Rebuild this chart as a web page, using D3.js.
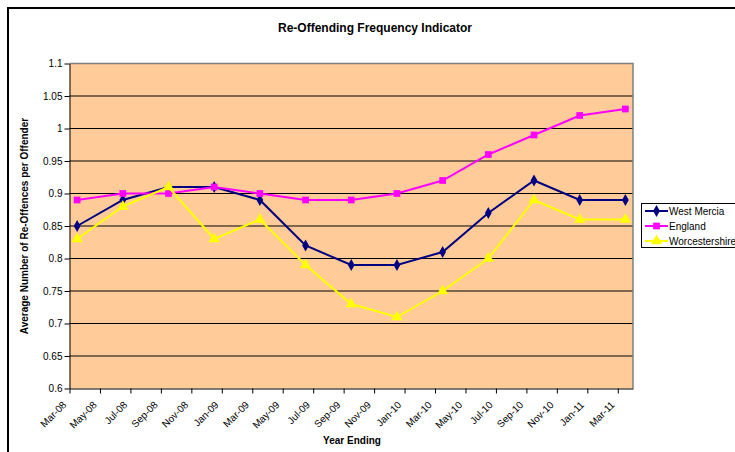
<!DOCTYPE html>
<html>
<head>
<meta charset="utf-8">
<script src="https://cdn.jsdelivr.net/npm/d3@7/dist/d3.min.js"></script>
<style>
  html, body { margin: 0; padding: 0; background: #fff; }
  svg { display: block; font-family: "Liberation Sans", Arial, sans-serif; }
</style>
</head>
<body>
<svg id="chart" width="735" height="452"></svg>
<script>
// Quarterly observation months (index = months since Mar-08)
const pointMonths = [0, 3, 6, 9, 12, 15, 18, 21, 24, 27, 30, 33, 36];
// Bi-monthly tick labels along the date axis
const tickLabels = ["Mar-08","May-08","Jul-08","Sep-08","Nov-08","Jan-09","Mar-09","May-09",
  "Jul-09","Sep-09","Nov-09","Jan-10","Mar-10","May-10","Jul-10","Sep-10","Nov-10","Jan-11","Mar-11"];
const yTicks = [0.6, 0.65, 0.7, 0.75, 0.8, 0.85, 0.9, 0.95, 1, 1.05, 1.1];

const westMercia     = [0.85, 0.89, 0.91, 0.91, 0.89, 0.82, 0.79, 0.79, 0.81, 0.87, 0.92, 0.89, 0.89];
const england        = [0.89, 0.90, 0.90, 0.91, 0.90, 0.89, 0.89, 0.90, 0.92, 0.96, 0.99, 1.02, 1.03];
const worcestershire = [0.83, 0.88, 0.91, 0.83, 0.86, 0.79, 0.73, 0.71, 0.75, 0.80, 0.89, 0.86, 0.86];

const seriesNames = ["West Mercia", "England", "Worcestershire"];
const seriesData = [westMercia, england, worcestershire];
const seriesColors = ["#000080", "#FF00FF", "#FFFF00"];
const seriesSymbols = [d3.symbolDiamond, d3.symbolSquare, d3.symbolTriangle];
const symbolSizes = [40, 45, 55];

const svg = d3.select("#chart");

// Outer chart frame
svg.append("rect").attr("x", 8).attr("y", 8).attr("width", 740).attr("height", 460)
  .attr("fill", "#fff").attr("stroke", "#000").attr("stroke-width", 2);

const plot = { left: 69.5, right: 633, top: 63.5, bottom: 388.5 };

// Date axis: one slot per month, points sit at slot centres
const x = d3.scaleLinear().domain([0, 37]).range([plot.left, plot.right]);
const y = d3.scaleLinear().domain([0.6, 1.1]).range([plot.bottom, plot.top]);

// Plot background
svg.append("rect")
  .attr("x", plot.left).attr("y", plot.top)
  .attr("width", plot.right - plot.left).attr("height", plot.bottom - plot.top)
  .attr("fill", "#FFCC99");

// Horizontal gridlines
svg.append("g").selectAll("line").data(yTicks.slice(1, -1)).join("line")
  .attr("x1", plot.left).attr("x2", plot.right)
  .attr("y1", d => y(d)).attr("y2", d => y(d))
  .attr("stroke", "#000").attr("stroke-width", 1);

// Plot border (top and right)
svg.append("path")
  .attr("d", `M${plot.left},${plot.top}H${plot.right}V${plot.bottom}`)
  .attr("fill", "none").attr("stroke", "#808080").attr("stroke-width", 1.5);

// Y axis
const yAxis = d3.axisLeft(y).tickValues(yTicks).tickSize(5).tickSizeOuter(0)
  .tickFormat(d => String(+d.toFixed(2)));
const gy = svg.append("g").attr("transform", `translate(${plot.left},0)`).call(yAxis);
gy.select(".domain").attr("stroke", "#000");
gy.selectAll(".tick line").attr("stroke", "#000");
gy.selectAll(".tick text").attr("font-size", 10).attr("fill", "#000")
  .attr("font-family", "Liberation Sans, Arial, sans-serif").attr("x", -7);

// X axis
const tickMonths = tickLabels.map((_, i) => i * 2);
const xAxis = d3.axisBottom(x).tickValues(tickMonths).tickSize(5).tickSizeOuter(0)
  .tickFormat((d, i) => tickLabels[i]);
const gx = svg.append("g").attr("transform", `translate(0,${plot.bottom})`).call(xAxis);
gx.select(".domain").attr("stroke", "#000");
gx.selectAll(".tick line").attr("stroke", "#000");
gx.selectAll(".tick text")
  .attr("font-size", 10).attr("fill", "#000")
  .attr("font-family", "Liberation Sans, Arial, sans-serif")
  .attr("text-anchor", "end")
  .attr("dy", 0).attr("y", 0)
  .attr("transform", "translate(-3,17) rotate(-45)");

// Series lines and markers
seriesData.forEach((vals, s) => {
  const pts = vals.map((v, i) => [x(pointMonths[i] + 0.5), y(v)]);
  svg.append("path")
    .attr("d", d3.line()(pts))
    .attr("fill", "none").attr("stroke", seriesColors[s]).attr("stroke-width", 2);
  svg.append("g").selectAll("path").data(pts).join("path")
    .attr("transform", d => `translate(${d[0]},${d[1]})`)
    .attr("d", d3.symbol().type(seriesSymbols[s]).size(symbolSizes[s]))
    .attr("fill", seriesColors[s]);
});

// Title
svg.append("text").attr("x", 375).attr("y", 32).attr("text-anchor", "middle")
  .attr("font-size", 12).attr("font-weight", "bold").text("Re-Offending Frequency Indicator");

// Axis titles
svg.append("text").attr("x", 352).attr("y", 444).attr("text-anchor", "middle")
  .attr("font-size", 10).attr("font-weight", "bold").text("Year Ending");
svg.append("text").attr("transform", "translate(28,226) rotate(-90)").attr("text-anchor", "middle")
  .attr("font-size", 10).attr("font-weight", "bold").text("Average Number of Re-Offences per Offender");

// Legend
const lg = svg.append("g");
lg.append("rect").attr("x", 641.5).attr("y", 203.5).attr("width", 120).attr("height", 44)
  .attr("fill", "#fff").attr("stroke", "#000").attr("stroke-width", 1);
seriesNames.forEach((name, s) => {
  const cy = 211 + s * 15;
  lg.append("line").attr("x1", 645).attr("x2", 668).attr("y1", cy).attr("y2", cy)
    .attr("stroke", seriesColors[s]).attr("stroke-width", 2);
  lg.append("path").attr("transform", `translate(656.5,${cy})`)
    .attr("d", d3.symbol().type(seriesSymbols[s]).size(symbolSizes[s]))
    .attr("fill", seriesColors[s]);
  lg.append("text").attr("x", 669).attr("y", cy + 3.5).attr("font-size", 10).text(name);
});
</script>
</body>
</html>
